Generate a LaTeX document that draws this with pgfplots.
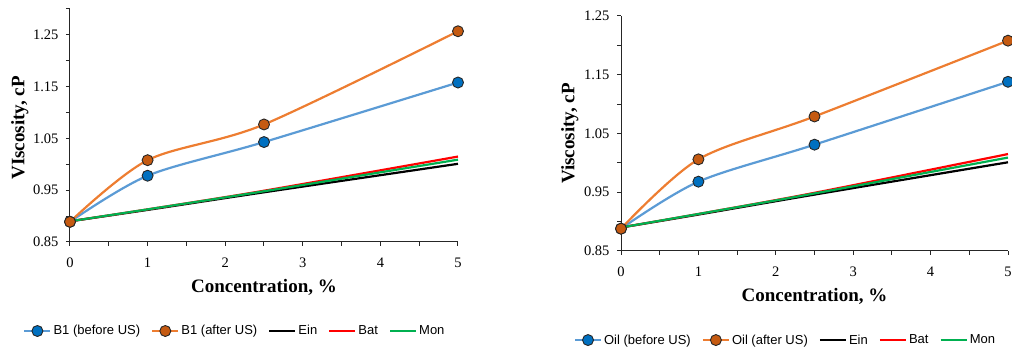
\documentclass[border=0pt]{standalone}
\usepackage{pgfplots}
\pgfplotsset{compat=1.18}
\usepackage{fontspec}
\setmainfont{Liberation Serif}
\newfontfamily\arialf{Liberation Sans}
\definecolor{bline}{HTML}{5B9BD5}
\definecolor{bfill}{HTML}{0070C0}
\definecolor{oline}{HTML}{ED7D31}
\definecolor{ofill}{HTML}{C55A11}
\definecolor{mgreen}{HTML}{00B050}
\pgfplotsset{
  vstyle/.style={
    scale only axis, anchor=south west, clip=false,
    axis lines=left, axis line style={-, draw=black!85, line width=1pt},
    tick align=outside, major tick length=4pt, minor tick length=4pt,
    every tick/.style={black!85, line width=1pt},
    xmin=0, xmax=5, xtick={0,1,2,3,4,5}, minor xtick={0.5,1.5,2.5,3.5,4.5},
    ytick={0.85,0.95,1.05,1.15,1.25},
    yticklabel style={/pgf/number format/fixed, /pgf/number format/fixed zerofill, /pgf/number format/precision=2},
    /pgf/number format/assume math mode=true,
    tick label style={font=\fontsize{14.5}{16}\selectfont},
    xticklabel style={yshift=-8pt},
    yticklabel style={xshift=-4pt},
    label style={font=\fontsize{19}{22}\selectfont\bfseries},
    xlabel style={at={(axis description cs:0.5,0)}, anchor=center, yshift=-45pt},
    legend columns=5,
    legend style={draw=none, fill=none, font=\arialf\fontsize{13}{15}\selectfont, anchor=center,
      /tikz/every even column/.append style={column sep=9pt}},
    legend image code/.code={\draw[mark repeat=2,mark phase=2] plot coordinates {(0pt,0pt)(13pt,0pt)(26pt,0pt)};},
  },
  bser/.style={color=bline, line width=2.2pt, smooth, mark=*, mark size=5.5pt, mark options={fill=bfill, draw=black!85, line width=0.9pt}},
  oser/.style={color=oline, line width=2.2pt, smooth, mark=*, mark size=5.5pt, mark options={fill=ofill, draw=black!85, line width=0.9pt}},
  ein/.style={black, line width=2.2pt, smooth, no markers},
  bat/.style={red, line width=2.2pt, smooth, no markers},
  mon/.style={mgreen, line width=2.2pt, smooth, no markers},
}
\begin{document}
\begin{tikzpicture}
\useasboundingbox (0pt,0pt) rectangle (1012pt,347pt);
\begin{axis}[vstyle, at={(70pt,105pt)}, width=388pt, height=233pt,
  ymin=0.85, ymax=1.30, minor ytick={0.90,1.00,1.10,1.20,1.30},
  xlabel={Concentration, \%}, ylabel={VIscosity, cP},
  ylabel style={at={(axis description cs:-0.129,0.49)}, anchor=center},
  legend style={at={(0.425,-0.382)}}]
\addplot[bser] coordinates {(0,0.889) (1,0.978) (2.5,1.043) (5,1.158)};
\addlegendentry{B1 (before US)}
\addplot[oser] coordinates {(0,0.889) (1,1.008) (2.5,1.077) (5,1.257)};
\addlegendentry{B1 (after US)}
\addplot[ein] coordinates {(0,0.890) (1,0.912) (2.5,0.946) (5,1.001)};
\addlegendentry{Ein}
\addplot[bat] coordinates {(0,0.890) (1,0.913) (2.5,0.949) (5,1.015)};
\addlegendentry{Bat}
\addplot[mon] coordinates {(0,0.890) (1,0.913) (2.5,0.948) (5,1.009)};
\addlegendentry{Mon}
\end{axis}
\begin{axis}[vstyle, at={(621pt,96pt)}, width=387pt, height=235pt,
  ymin=0.85, ymax=1.25, minor ytick={0.90,1.00,1.10,1.20},
  xlabel={Concentration, \%}, ylabel={Viscosity, cP},
  ylabel style={at={(axis description cs:-0.132,0.5)}, anchor=center},
  legend style={at={(0.425,-0.379)}}]
\addplot[bser] coordinates {(0,0.888) (1,0.968) (2.5,1.031) (5,1.138)};
\addlegendentry{Oil (before US)}
\addplot[oser] coordinates {(0,0.888) (1,1.006) (2.5,1.079) (5,1.208)};
\addlegendentry{Oil (after US)}
\addplot[ein] coordinates {(0,0.890) (1,0.912) (2.5,0.946) (5,1.001)};
\addlegendentry{Ein}
\addplot[bat] coordinates {(0,0.890) (1,0.913) (2.5,0.949) (5,1.015)};
\addlegendentry{Bat}
\addplot[mon] coordinates {(0,0.890) (1,0.913) (2.5,0.948) (5,1.009)};
\addlegendentry{Mon}
\end{axis}
\end{tikzpicture}
\end{document}
